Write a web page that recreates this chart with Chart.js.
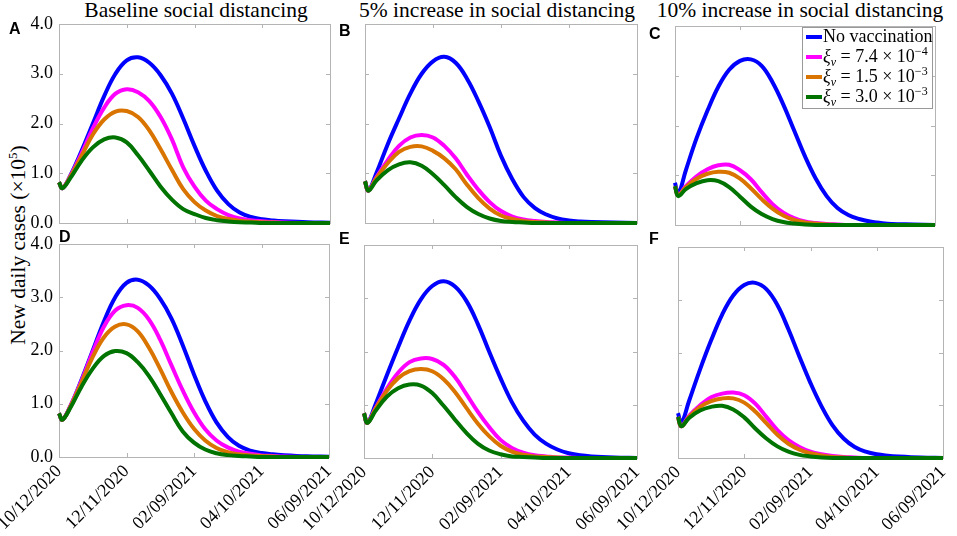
<!DOCTYPE html>
<html>
<head>
<meta charset="utf-8">
<script src="https://cdn.jsdelivr.net/npm/chart.js@4.4.1/dist/chart.umd.min.js"></script>
<style>
  html, body { margin: 0; padding: 0; background: #fff; }
  #fig { position: relative; width: 957px; height: 536px; overflow: hidden; font-family: 'Liberation Serif', 'Times New Roman', serif; color: #000; }
  #fig canvas { position: absolute; left: 0; top: 0; }
  .title { position: absolute; top: 0; font-size: 21.5px; line-height: 1; white-space: nowrap; transform: translateX(-50%); }
  .letter { position: absolute; font-family: 'Liberation Sans', Arial, sans-serif; font-weight: bold; font-size: 16px; line-height: 1; }
  #ylabel { position: absolute; left: 18px; top: 245px; font-size: 21.5px; white-space: nowrap; transform: translate(-50%, -50%) rotate(-90deg); }
  #ylabel sup { font-size: 13px; vertical-align: 8px; line-height: 0; }
  #legend { position: absolute; left: 802px; top: 27px; width: 131px; height: 82px; border: 1px solid #999; background: #fff; box-sizing: border-box; z-index: 5; }
  .lrow { position: absolute; left: 3px; height: 20px; line-height: 20px; font-size: 18px; white-space: nowrap; }
  .lrow .swatch { position: absolute; left: 0; top: 9px; width: 16px; height: 4px; }
  .lrow .txt { position: absolute; left: 17px; top: 0; }
  .lrow sub { font-size: 12px; vertical-align: -4px; line-height: 0; }
  .lrow sup { font-size: 12px; vertical-align: 7px; line-height: 0; }
</style>
</head>
<body>
<div id="fig">
  <div class="title" style="left:196px">Baseline social distancing</div>
  <div class="title" style="left:497px">5% increase in social distancing</div>
  <div class="title" style="left:800px">10% increase in social distancing</div>
  <div id="ylabel">New daily cases (×10<sup>5</sup>)</div>
  <div id="legend"></div>
</div>
<script>
// days since 10/12/2020
const days = [0, 3, 10, 20, 30, 40, 50, 60, 70, 80, 90, 100, 110, 120, 130, 140, 150, 160, 170, 180, 190, 200, 220, 240];
const dateTicks = ['10/12/2020', '12/11/2020', '02/09/2021', '04/10/2021', '06/09/2021'];
const yTicks = [0, 1, 2, 3, 4];
const seriesNames = ['No vaccination', 'ξv = 7.4 × 10^-4', 'ξv = 1.5 × 10^-3', 'ξv = 3.0 × 10^-3'];
const legendHtml = [
    'No vaccination',
    '<i>ξ<sub>v</sub></i> = 7.4 × 10<sup>−4</sup>',
    '<i>ξ<sub>v</sub></i> = 1.5 × 10<sup>−3</sup>',
    '<i>ξ<sub>v</sub></i> = 3.0 × 10<sup>−3</sup>'
];

// new daily cases (x 10^5), baseline social distancing
const noVaxA = [0.82, 0.70, 0.95, 1.45, 2.00, 2.55, 3.00, 3.27, 3.33, 3.22, 2.97, 2.60, 2.10, 1.55, 1.05, 0.65, 0.38, 0.21, 0.12, 0.075, 0.05, 0.035, 0.015, 0.005];
const lowA = [0.82, 0.70, 0.94, 1.40, 1.90, 2.32, 2.60, 2.69, 2.63, 2.45, 2.13, 1.68, 1.12, 0.73, 0.45, 0.28, 0.16, 0.09, 0.055, 0.035, 0.02, 0.01, 0, 0];
const midA = [0.82, 0.70, 0.93, 1.35, 1.78, 2.08, 2.24, 2.25, 2.13, 1.86, 1.48, 1.07, 0.68, 0.42, 0.25, 0.14, 0.08, 0.045, 0.025, 0.015, 0.01, 0, 0, 0];
const highA = [0.82, 0.70, 0.90, 1.25, 1.52, 1.68, 1.72, 1.62, 1.36, 1.05, 0.73, 0.47, 0.28, 0.18, 0.10, 0.055, 0.03, 0.015, 0.01, 0, 0, 0, 0, 0];

// 5% increase
const noVaxB = [0.84, 0.65, 1.00, 1.58, 2.10, 2.60, 3.00, 3.25, 3.34, 3.22, 2.90, 2.45, 1.93, 1.35, 0.88, 0.52, 0.30, 0.17, 0.09, 0.05, 0.03, 0.02, 0.01, 0];
const lowB = [0.84, 0.65, 0.92, 1.26, 1.55, 1.72, 1.77, 1.72, 1.55, 1.30, 0.97, 0.67, 0.42, 0.24, 0.13, 0.07, 0.04, 0.02, 0.01, 0, 0, 0, 0, 0];
const midB = [0.84, 0.65, 0.90, 1.20, 1.43, 1.53, 1.54, 1.45, 1.30, 1.08, 0.77, 0.50, 0.29, 0.15, 0.08, 0.04, 0.02, 0.01, 0, 0, 0, 0, 0, 0];
const highB = [0.84, 0.65, 0.85, 1.06, 1.18, 1.22, 1.15, 0.98, 0.76, 0.52, 0.32, 0.18, 0.09, 0.04, 0.02, 0.01, 0, 0, 0, 0, 0, 0, 0, 0];

// 10% increase
const noVaxC = [0.85, 0.62, 1.10, 1.75, 2.30, 2.78, 3.12, 3.30, 3.33, 3.20, 2.87, 2.42, 1.90, 1.38, 0.93, 0.58, 0.34, 0.20, 0.12, 0.07, 0.04, 0.02, 0.01, 0];
const lowC = [0.78, 0.60, 0.78, 0.98, 1.12, 1.20, 1.21, 1.10, 0.92, 0.66, 0.42, 0.25, 0.14, 0.07, 0.04, 0.02, 0.01, 0, 0, 0, 0, 0, 0, 0];
const midC = [0.78, 0.60, 0.76, 0.93, 1.03, 1.07, 1.05, 0.93, 0.74, 0.52, 0.33, 0.19, 0.10, 0.05, 0.03, 0.01, 0, 0, 0, 0, 0, 0, 0, 0];
const highC = [0.78, 0.58, 0.72, 0.84, 0.90, 0.88, 0.76, 0.57, 0.37, 0.22, 0.12, 0.06, 0.03, 0.01, 0, 0, 0, 0, 0, 0, 0, 0, 0, 0];

// bottom row
const noVaxD = [0.82, 0.70, 0.95, 1.45, 2.00, 2.55, 3.00, 3.27, 3.33, 3.22, 2.97, 2.60, 2.10, 1.55, 1.05, 0.65, 0.38, 0.21, 0.12, 0.075, 0.05, 0.035, 0.015, 0.005];
const lowD = [0.82, 0.70, 0.95, 1.43, 1.97, 2.45, 2.75, 2.85, 2.80, 2.58, 2.20, 1.72, 1.25, 0.84, 0.52, 0.31, 0.18, 0.10, 0.06, 0.03, 0.02, 0.01, 0, 0];
const midD = [0.82, 0.70, 0.94, 1.40, 1.88, 2.25, 2.45, 2.49, 2.36, 2.05, 1.65, 1.22, 0.84, 0.53, 0.31, 0.17, 0.09, 0.05, 0.03, 0.02, 0.01, 0, 0, 0];
const highD = [0.82, 0.70, 0.92, 1.32, 1.66, 1.90, 1.99, 1.95, 1.78, 1.52, 1.18, 0.82, 0.48, 0.27, 0.14, 0.07, 0.035, 0.02, 0.01, 0, 0, 0, 0, 0];

const noVaxE = [0.84, 0.66, 1.00, 1.55, 2.08, 2.58, 2.98, 3.23, 3.32, 3.22, 2.95, 2.52, 2.00, 1.50, 1.05, 0.70, 0.44, 0.27, 0.16, 0.09, 0.05, 0.03, 0.01, 0];
const lowE = [0.84, 0.66, 0.93, 1.30, 1.60, 1.80, 1.87, 1.86, 1.75, 1.52, 1.20, 0.87, 0.58, 0.34, 0.19, 0.10, 0.05, 0.03, 0.01, 0.01, 0, 0, 0, 0];
const midE = [0.84, 0.66, 0.92, 1.26, 1.50, 1.63, 1.67, 1.63, 1.48, 1.24, 0.94, 0.65, 0.41, 0.23, 0.12, 0.06, 0.03, 0.02, 0.01, 0, 0, 0, 0, 0];
const highE = [0.84, 0.66, 0.88, 1.15, 1.31, 1.38, 1.36, 1.22, 0.98, 0.72, 0.47, 0.27, 0.14, 0.07, 0.03, 0.02, 0.01, 0, 0, 0, 0, 0, 0, 0];

const noVaxF = [0.85, 0.66, 1.08, 1.68, 2.23, 2.72, 3.08, 3.28, 3.32, 3.20, 2.90, 2.44, 1.92, 1.42, 0.98, 0.62, 0.37, 0.21, 0.12, 0.07, 0.045, 0.03, 0.01, 0];
const lowF = [0.78, 0.60, 0.80, 1.00, 1.15, 1.22, 1.24, 1.19, 1.03, 0.78, 0.53, 0.34, 0.21, 0.12, 0.07, 0.04, 0.02, 0.01, 0, 0, 0, 0, 0, 0];
const midF = [0.78, 0.60, 0.78, 0.97, 1.08, 1.13, 1.13, 1.05, 0.88, 0.66, 0.44, 0.27, 0.16, 0.09, 0.05, 0.02, 0.01, 0, 0, 0, 0, 0, 0, 0];
const highF = [0.78, 0.60, 0.76, 0.90, 0.97, 0.99, 0.92, 0.77, 0.56, 0.37, 0.22, 0.12, 0.06, 0.03, 0.01, 0, 0, 0, 0, 0, 0, 0, 0, 0];

const lineColors = ['#0000ff', '#ff00ff', '#d97400', '#007300'];
const W = 957, H = 536;
const Y_AXIS_W = 58;   // room kept left of each plot for the y tick labels
const X_AXIS_H = 78;   // room kept under each plot for the rotated dates

// panel box in page pixels: [left, top, right, bottom]
const panels = [
    { letter: 'A', at: [9, 21], box: [59, 24, 330, 223], series: [noVaxA, lowA, midA, highA], yLabels: true, xLabels: false },
    { letter: 'B', at: [339, 23], box: [365, 24, 637, 223], series: [noVaxB, lowB, midB, highB], yLabels: false, xLabels: false },
    { letter: 'C', at: [649, 26], box: [675, 26, 935, 225], series: [noVaxC, lowC, midC, highC], yLabels: false, xLabels: false },
    { letter: 'D', at: [59, 229], box: [59, 244, 329, 457], series: [noVaxD, lowD, midD, highD], yLabels: true, xLabels: true },
    { letter: 'E', at: [339, 231], box: [364, 245, 637, 458], series: [noVaxE, lowE, midE, highE], yLabels: false, xLabels: true },
    { letter: 'F', at: [649, 231], box: [678, 247, 943, 458], series: [noVaxF, lowF, midF, highF], yLabels: false, xLabels: true }
];

// box around the plot with inward tick marks, like the original figure
const framePlugin = {
    id: 'frame',
    beforeDatasetsDraw(chart) {
        const { ctx, chartArea: a, scales: { x, y } } = chart;
        ctx.save();
        ctx.strokeStyle = '#b4b4b4';
        ctx.lineWidth = 1;
        ctx.strokeRect(Math.round(a.left) + 0.5, Math.round(a.top) + 0.5, Math.round(a.width), Math.round(a.height));
        ctx.beginPath();
        x.ticks.forEach(t => {
            const px = Math.round(x.getPixelForValue(t.value)) + 0.5;
            ctx.moveTo(px, a.bottom); ctx.lineTo(px, a.bottom - 4);
            ctx.moveTo(px, a.top); ctx.lineTo(px, a.top + 4);
        });
        y.ticks.forEach(t => {
            const py = Math.round(y.getPixelForValue(t.value)) + 0.5;
            ctx.moveTo(a.left, py); ctx.lineTo(a.left + 4, py);
            ctx.moveTo(a.right, py); ctx.lineTo(a.right - 4, py);
        });
        ctx.stroke();
        ctx.restore();
    }
};

const fig = document.getElementById('fig');
const tickFont = { family: "'Liberation Serif', 'Times New Roman', serif", size: 18 };

panels.forEach(p => {
    const canvas = document.createElement('canvas');
    canvas.width = W;
    canvas.height = H;
    fig.appendChild(canvas);

    const lbl = document.createElement('div');
    lbl.className = 'letter';
    lbl.style.left = p.at[0] + 'px';
    lbl.style.top = p.at[1] + 'px';
    lbl.textContent = p.letter;
    fig.appendChild(lbl);

    const [l, t, r, b] = p.box;
    new Chart(canvas, {
        type: 'line',
        data: {
            datasets: p.series.map((vals, i) => ({
                label: seriesNames[i],
                data: vals.map((v, k) => ({ x: days[k], y: v })),
                borderColor: lineColors[i],
                borderWidth: 4,
                pointRadius: 0,
                tension: 0.4,
                clip: false,
                order: 3 - i
            }))
        },
        options: {
            responsive: false,
            animation: false,
            events: [],
            layout: {
                autoPadding: false,
                padding: { left: l - Y_AXIS_W, top: t, right: W - r, bottom: H - b - X_AXIS_H }
            },
            plugins: { legend: { display: false }, tooltip: { enabled: false } },
            scales: {
                x: {
                    type: 'linear',
                    min: 0,
                    max: 240,
                    grid: { display: false, drawTicks: false },
                    border: { display: false },
                    ticks: {
                        display: p.xLabels,
                        stepSize: 60,
                        autoSkip: false,
                        minRotation: 45,
                        maxRotation: 45,
                        padding: 4,
                        color: '#000',
                        font: tickFont,
                        callback: v => dateTicks[Math.round(v / 60)]
                    },
                    afterFit: s => { s.height = X_AXIS_H; s.paddingLeft = 0; s.paddingRight = 0; }
                },
                y: {
                    min: 0,
                    max: 4,
                    grid: { display: false, drawTicks: false },
                    border: { display: false },
                    afterBuildTicks: s => { s.ticks = yTicks.map(v => ({ value: v })); },
                    ticks: {
                        display: p.yLabels,
                        padding: 6,
                        color: '#000',
                        font: tickFont,
                        callback: v => v.toFixed(1)
                    },
                    afterFit: s => { s.width = Y_AXIS_W; s.paddingTop = 0; s.paddingBottom = 0; }
                }
            }
        },
        plugins: [framePlugin]
    });
});

// legend inside panel C
const legend = document.getElementById('legend');
legendHtml.forEach((html, i) => {
    const row = document.createElement('div');
    row.className = 'lrow';
    row.style.top = (-2 + i * 20) + 'px';
    const sw = document.createElement('span');
    sw.className = 'swatch';
    sw.style.background = lineColors[i];
    const tx = document.createElement('span');
    tx.className = 'txt';
    tx.innerHTML = html;
    row.appendChild(sw);
    row.appendChild(tx);
    legend.appendChild(row);
});
</script>
</body>
</html>
